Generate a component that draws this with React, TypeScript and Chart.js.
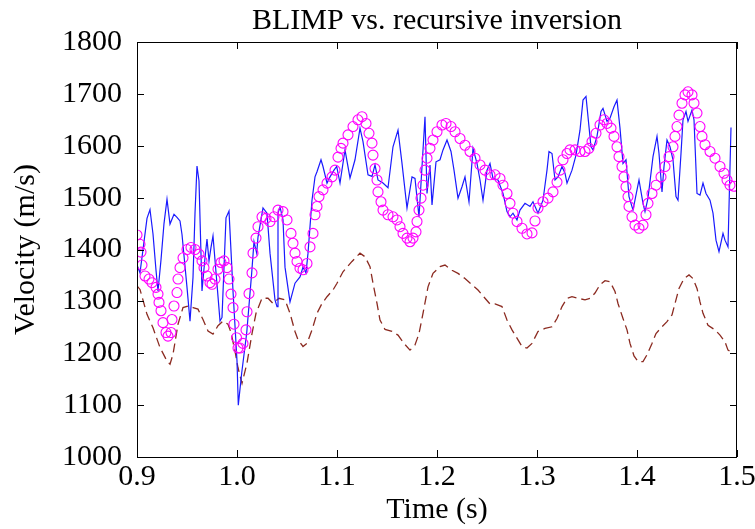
import React, { useEffect, useRef } from "react";
import { Chart, registerables } from "chart.js";

Chart.register(...registerables);

const TITLE = "BLIMP vs. recursive inversion";
const X_LABEL = "Time (s)";
const Y_LABEL = "Velocity (m/s)";

const blueT = [0.900,0.903,0.906,0.910,0.913,0.916,0.919,0.921,0.924,0.927,0.930,0.933,0.937,0.940,0.943,0.945,0.950,0.953,0.956,0.958,0.960,0.962,0.965,0.968,0.970,0.972,0.974,0.976,0.980,0.983,0.985,0.989,0.992,0.996,1.000,1.0013,1.0047,1.0097,1.0147,1.017,1.0197,1.021,1.026,1.030,1.033,1.038,1.040,1.041,1.043,1.046,1.048,1.053,1.058,1.063,1.066,1.069,1.071,1.075,1.078,1.080,1.084,1.086,1.090,1.093,1.097,1.0997,1.103,1.108,1.113,1.118,1.123,1.126,1.131,1.135,1.138,1.141,1.146,1.151,1.156,1.161,1.165,1.170,1.175,1.178,1.182,1.188,1.190,1.193,1.195,1.199,1.203,1.206,1.210,1.214,1.217,1.221,1.225,1.228,1.232,1.236,1.240,1.243,1.246,1.250,1.253,1.256,1.261,1.266,1.270,1.273,1.276,1.280,1.283,1.288,1.293,1.296,1.301,1.306,1.310,1.312,1.315,1.318,1.321,1.325,1.328,1.330,1.335,1.339,1.343,1.346,1.349,1.351,1.354,1.356,1.360,1.364,1.366,1.370,1.373,1.377,1.380,1.383,1.386,1.389,1.392,1.396,1.400,1.402,1.406,1.408,1.411,1.416,1.420,1.422,1.425,1.427,1.430,1.433,1.436,1.439,1.441,1.444,1.446,1.449,1.451,1.455,1.457,1.460,1.463,1.466,1.469,1.473,1.476,1.479,1.482,1.486,1.488,1.491,1.494];
const blueV = [1370,1355,1400,1460,1477,1430,1360,1320,1380,1450,1497,1449,1468,1462,1455,1429,1327,1262,1346,1470,1561,1532,1320,1384,1420,1378,1404,1426,1333,1262,1269,1461,1474,1320,1185,1100,1162,1239,1355,1415,1393,1424,1480,1470,1393,1303,1290,1470,1482,1457,1366,1299,1335,1347,1366,1355,1393,1495,1540,1550,1573,1560,1528,1540,1553,1560,1528,1592,1538,1573,1634,1608,1544,1541,1563,1534,1528,1519,1598,1630,1566,1480,1540,1537,1463,1656,1508,1563,1486,1569,1573,1592,1611,1589,1553,1499,1521,1540,1492,1595,1566,1534,1495,1553,1566,1537,1534,1508,1473,1463,1470,1457,1476,1489,1483,1492,1470,1495,1553,1589,1585,1534,1540,1560,1547,1528,1553,1582,1630,1688,1695,1656,1598,1592,1618,1666,1672,1647,1653,1675,1688,1634,1566,1573,1502,1476,1515,1534,1489,1473,1499,1579,1618,1585,1511,1560,1611,1598,1573,1502,1495,1585,1650,1666,1647,1669,1650,1508,1505,1528,1508,1495,1470,1418,1396,1431,1418,1405,1635];

const circleT = [0.900,0.903,0.904,0.905,0.908,0.912,0.915,0.919,0.921,0.922,0.924,0.926,0.929,0.931,0.934,0.935,0.937,0.940,0.941,0.943,0.946,0.950,0.954,0.958,0.962,0.965,0.967,0.970,0.973,0.975,0.978,0.981,0.984,0.987,0.990,0.992,0.994,0.996,0.997,0.9995,1.001,1.003,1.006,1.009,1.010,1.012,1.015,1.016,1.019,1.021,1.025,1.029,1.033,1.037,1.041,1.046,1.050,1.054,1.056,1.058,1.060,1.063,1.066,1.070,1.073,1.076,1.078,1.080,1.082,1.086,1.090,1.095,1.098,1.101,1.104,1.106,1.111,1.116,1.121,1.125,1.129,1.132,1.135,1.136,1.138,1.140,1.141,1.144,1.146,1.151,1.156,1.160,1.163,1.166,1.170,1.173,1.176,1.179,1.180,1.182,1.184,1.186,1.188,1.190,1.193,1.196,1.200,1.205,1.209,1.214,1.218,1.223,1.228,1.233,1.238,1.243,1.248,1.253,1.258,1.263,1.266,1.270,1.273,1.276,1.280,1.285,1.290,1.295,1.298,1.301,1.306,1.311,1.316,1.320,1.323,1.326,1.330,1.333,1.338,1.343,1.348,1.352,1.355,1.359,1.363,1.367,1.370,1.374,1.377,1.380,1.382,1.385,1.387,1.389,1.391,1.392,1.395,1.398,1.402,1.406,1.409,1.411,1.415,1.419,1.424,1.428,1.432,1.436,1.438,1.440,1.442,1.445,1.448,1.451,1.455,1.457,1.460,1.463,1.465,1.468,1.473,1.478,1.483,1.487,1.490,1.493,1.497];
const circleV = [1428,1410,1395,1370,1349,1343,1336,1327,1314,1298,1282,1259,1240,1233,1240,1265,1291,1317,1343,1365,1384,1400,1404,1400,1391,1378,1365,1349,1336,1333,1343,1362,1375,1378,1365,1343,1314,1288,1256,1230,1210,1210,1219,1245,1280,1315,1355,1393,1422,1444,1463,1460,1454,1463,1476,1473,1457,1431,1412,1393,1377,1364,1361,1373,1405,1431,1467,1483,1502,1515,1528,1540,1553,1578,1595,1605,1621,1637,1650,1656,1643,1624,1605,1582,1556,1534,1511,1492,1476,1467,1463,1457,1444,1431,1422,1415,1422,1434,1454,1476,1499,1524,1553,1576,1595,1611,1627,1640,1643,1637,1627,1614,1601,1589,1576,1563,1553,1544,1544,1537,1524,1508,1489,1470,1454,1441,1430,1432,1455,1480,1492,1499,1511,1530,1553,1573,1585,1592,1592,1589,1589,1595,1608,1624,1640,1650,1643,1634,1618,1598,1579,1560,1540,1521,1502,1483,1463,1447,1441,1447,1467,1489,1508,1524,1540,1560,1579,1598,1618,1637,1659,1682,1698,1704,1698,1682,1663,1637,1618,1602,1589,1576,1560,1547,1534,1524,1522];

const dashT = [0.900,0.903,0.910,0.916,0.923,0.930,0.933,0.936,0.941,0.946,0.951,0.956,0.961,0.966,0.971,0.976,0.981,0.986,0.991,0.994,0.998,1.001,1.005,1.010,1.015,1.019,1.025,1.031,1.036,1.042,1.048,1.053,1.058,1.061,1.066,1.070,1.075,1.080,1.085,1.090,1.096,1.100,1.106,1.115,1.123,1.128,1.133,1.136,1.140,1.143,1.148,1.155,1.161,1.167,1.173,1.178,1.182,1.186,1.191,1.196,1.203,1.208,1.215,1.221,1.228,1.235,1.241,1.248,1.253,1.258,1.265,1.270,1.275,1.280,1.285,1.290,1.295,1.301,1.308,1.315,1.320,1.325,1.330,1.335,1.341,1.348,1.353,1.358,1.363,1.368,1.373,1.378,1.381,1.386,1.390,1.393,1.397,1.401,1.406,1.410,1.415,1.419,1.425,1.430,1.435,1.438,1.442,1.447,1.452,1.456,1.460,1.463,1.466,1.471,1.478,1.483,1.488,1.491,1.495];
const dashV = [1330,1323,1275,1249,1211,1185,1179,1198,1256,1288,1291,1288,1285,1265,1243,1237,1253,1262,1256,1240,1204,1172,1142,1181,1238,1277,1306,1306,1296,1306,1303,1277,1242,1226,1213,1219,1245,1277,1296,1309,1322,1335,1357,1377,1393,1386,1367,1335,1296,1264,1246,1242,1235,1219,1206,1216,1238,1277,1328,1354,1367,1370,1360,1354,1344,1332,1322,1306,1295,1295,1290,1264,1245,1229,1213,1210,1219,1242,1248,1251,1267,1290,1306,1309,1306,1303,1306,1316,1332,1340,1338,1319,1296,1267,1245,1219,1195,1184,1184,1197,1219,1238,1251,1261,1274,1296,1325,1344,1351,1344,1325,1299,1277,1254,1245,1235,1222,1206,1202];

const X_MIN = 0.9, X_MAX = 1.5, X_STEP = 0.1;
const Y_MIN = 1000, Y_MAX = 1800, Y_STEP = 100;

const FONT = "'Liberation Serif', 'Times New Roman', serif";

const pts = (t: number[], v: number[]) => t.map((x, i) => ({ x, y: v[i] }));

const framePlugin = {
  id: "frameAndTitle",
  afterDraw(chart: any) {
    const { ctx, chartArea: a, scales } = chart;
    const xs = scales.x, ys = scales.y;
    ctx.save();
    ctx.strokeStyle = "#000";
    ctx.lineWidth = 1;
    ctx.beginPath();
    ctx.rect(a.left + 0.5, a.top + 0.5, a.right - a.left - 1, a.bottom - a.top);
    ctx.stroke();
    const L = 7;
    ctx.beginPath();
    xs.ticks.forEach((t: any) => {
      const px = Math.round(xs.getPixelForValue(t.value)) + 0.5;
      ctx.moveTo(px, a.bottom); ctx.lineTo(px, a.bottom - L);
      ctx.moveTo(px, a.top); ctx.lineTo(px, a.top + L);
    });
    ys.ticks.forEach((t: any) => {
      const py = Math.round(ys.getPixelForValue(t.value)) + 0.5;
      ctx.moveTo(a.left, py); ctx.lineTo(a.left + L, py);
      ctx.moveTo(a.right, py); ctx.lineTo(a.right - L, py);
    });
    ctx.stroke();
    ctx.fillStyle = "#000";
    ctx.font = `30px ${FONT}`;
    ctx.textAlign = "center";
    ctx.textBaseline = "alphabetic";
    ctx.fillText(TITLE, (a.left + a.right) / 2, 29);
    ctx.restore();
  },
};

export default function App() {
  const ref = useRef<HTMLCanvasElement | null>(null);
  useEffect(() => {
    if (!ref.current) return;
    const chart = new Chart(ref.current, {
      type: "scatter",
      data: {
        datasets: [
          {
            label: "recursive",
            data: pts(circleT, circleV),
            showLine: false,
            pointStyle: "circle",
            pointRadius: 5,
            pointBorderWidth: 1.1,
            pointBorderColor: "#ff00ff",
            pointBackgroundColor: "rgba(0,0,0,0)",
            borderColor: "#ff00ff",
            backgroundColor: "rgba(0,0,0,0)",
          },
          {
            label: "BLIMP",
            data: pts(blueT, blueV),
            showLine: true,
            pointRadius: 0,
            borderColor: "#1a1aff",
            borderWidth: 1.2,
            tension: 0,
          },
          {
            label: "initial",
            data: pts(dashT, dashV),
            showLine: true,
            pointRadius: 0,
            borderColor: "#8b2a20",
            borderWidth: 1.3,
            borderDash: [9, 5],
            tension: 0,
          },
        ],
      },
      options: {
        animation: false,
        responsive: false,
        devicePixelRatio: 1,
        layout: { padding: { top: 42, right: 18, left: 0, bottom: 0 } },
        plugins: { legend: { display: false }, tooltip: { enabled: false }, title: { display: false } },
        scales: {
          x: {
            type: "linear",
            min: X_MIN,
            max: X_MAX,
            grid: { display: false, drawTicks: false },
            border: { display: false },
            ticks: {
              stepSize: X_STEP,
              color: "#000",
              font: { family: FONT, size: 30 },
              padding: 2,
              maxRotation: 0,
              callback: (v: any) => Number(v).toFixed(1),
            },
            title: { display: true, text: X_LABEL, color: "#000", font: { family: FONT, size: 30 }, padding: { top: 0, bottom: 1 } },
            afterFit: (s: any) => { s.height = 72; s.paddingLeft = 0; s.paddingRight = 0; },
          },
          y: {
            type: "linear",
            min: Y_MIN,
            max: Y_MAX,
            grid: { display: false, drawTicks: false },
            border: { display: false },
            ticks: {
              stepSize: Y_STEP,
              color: "#000",
              font: { family: FONT, size: 30 },
              padding: 15,
              callback: (v: any) => String(Math.round(Number(v))),
            },
            title: { display: true, text: Y_LABEL, color: "#000", font: { family: FONT, size: 30 }, padding: { top: 8, bottom: 0 } },
            afterFit: (s: any) => { s.width = 137; s.paddingTop = 0; s.paddingBottom = 0; },
          },
        },
      },
      plugins: [framePlugin],
    });
    return () => chart.destroy();
  }, []);
  return (
    <div style={{ position: "absolute", left: 0, top: 0, width: 755, height: 529 }}>
      <canvas ref={ref} width={755} height={529} style={{ display: "block" }} />
    </div>
  );
}
